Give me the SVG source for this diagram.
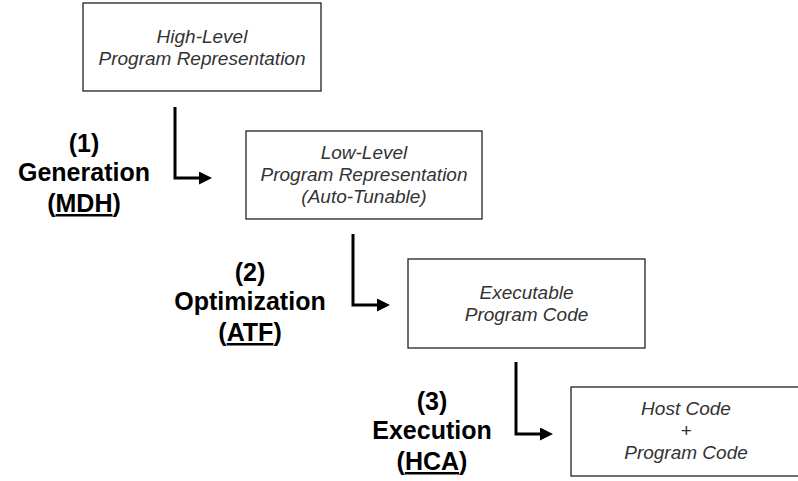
<svg xmlns="http://www.w3.org/2000/svg" width="798" height="481" viewBox="0 0 798 481">
  <style>
    .box{fill:#fff;stroke:#222;stroke-width:1.3}
    .bt{font-family:"Liberation Sans",Arial,sans-serif;font-style:italic;font-size:19px;fill:#333;text-anchor:middle}
    .lb{font-family:"Liberation Sans",Arial,sans-serif;font-weight:bold;font-size:25px;fill:#000;text-anchor:middle}
    .wire{fill:none;stroke:#000;stroke-width:3;marker-end:url(#head)}
  </style>
  <defs>
    <marker id="head" markerUnits="userSpaceOnUse" markerWidth="14" markerHeight="14" refX="0" refY="6.5" orient="auto">
      <path d="M0,0 L13,6.5 L0,13 Z" fill="#000"/>
    </marker>
  </defs>
  <rect width="798" height="481" fill="#fff"/>

  <!-- stage boxes -->
  <g id="high-level">
    <rect class="box" x="83" y="3" width="238" height="88"/>
    <text class="bt" x="202" y="43">High-Level</text>
    <text class="bt" x="202" y="65">Program Representation</text>
  </g>
  <g id="low-level">
    <rect class="box" x="246" y="131" width="236" height="88"/>
    <text class="bt" x="364" y="159">Low-Level</text>
    <text class="bt" x="364" y="181">Program Representation</text>
    <text class="bt" x="364" y="203">(Auto-Tunable)</text>
  </g>
  <g id="executable">
    <rect class="box" x="408" y="259" width="237" height="89"/>
    <text class="bt" x="526.5" y="299">Executable</text>
    <text class="bt" x="526.5" y="321">Program Code</text>
  </g>
  <g id="host-code">
    <rect class="box" x="571" y="387" width="237" height="89"/>
    <text class="bt" x="686" y="415">Host Code</text>
    <text class="bt" x="686" y="437">+</text>
    <text class="bt" x="686" y="459">Program Code</text>
  </g>

  <!-- step labels -->
  <g id="step-generation">
    <text class="lb" x="84" y="152">(1)</text>
    <text class="lb" x="84" y="181">Generation</text>
    <text class="lb" x="84" y="212">(<tspan text-decoration="underline">MDH</tspan>)</text>
  </g>
  <g id="step-optimization">
    <text class="lb" x="250" y="281">(2)</text>
    <text class="lb" x="250" y="310">Optimization</text>
    <text class="lb" x="250" y="341">(<tspan text-decoration="underline">ATF</tspan>)</text>
  </g>
  <g id="step-execution">
    <text class="lb" x="432" y="410">(3)</text>
    <text class="lb" x="432" y="439">Execution</text>
    <text class="lb" x="432" y="470">(<tspan text-decoration="underline">HCA</tspan>)</text>
  </g>

  <!-- elbow connectors -->
  <g id="connectors">
    <path class="wire" d="M175,107 V178 H199"/>
    <path class="wire" d="M353,234 V305 H377"/>
    <path class="wire" d="M516,362 V434 H540"/>
  </g>
</svg>
